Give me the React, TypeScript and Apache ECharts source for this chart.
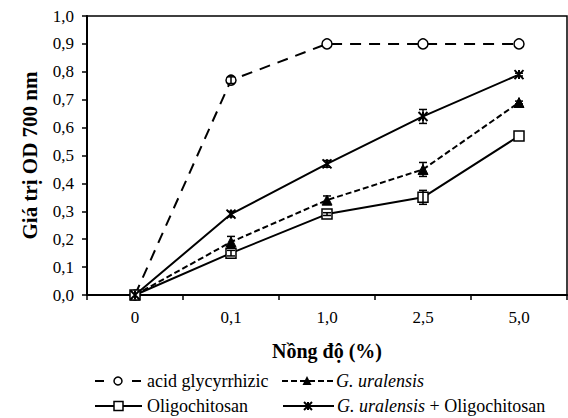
import React, { useEffect, useRef } from "react";
import * as echarts from "echarts";

const categories = ["0", "0,1", "1,0", "2,5", "5,0"];
const acidValues = [0, 0.77, 0.9, 0.9, 0.9];
const acidErr = [0, 0.012, 0, 0, 0];
const uralValues = [0, 0.19, 0.34, 0.45, 0.69];
const uralErr = [0, 0.02, 0.015, 0.025, 0.005];
const oligoValues = [0, 0.15, 0.29, 0.35, 0.57];
const oligoErr = [0, 0.01, 0.005, 0.025, 0];
const comboValues = [0, 0.29, 0.47, 0.64, 0.79];
const comboErr = [0, 0.01, 0.012, 0.025, 0.005];
const yTicks = [0, 0.1, 0.2, 0.3, 0.4, 0.5, 0.6, 0.7, 0.8, 0.9, 1.0];

const FONT = "Liberation Serif";
const STAR = "path://M0,0L10,10M10,0L0,10M5,0L5,10";

function errData(vals: number[], errs: number[]) {
  return vals
    .map((v, i) => [i, v - errs[i], v + errs[i], errs[i]])
    .filter((d) => d[3] > 0);
}

function errSeries(vals: number[], errs: number[]) {
  return {
    type: "custom",
    silent: true,
    z: 5,
    data: errData(vals, errs),
    renderItem: (params: any, api: any) => {
      const x = api.coord([api.value(0), api.value(1)])[0];
      const lo = api.coord([api.value(0), api.value(1)])[1];
      const hi = api.coord([api.value(0), api.value(2)])[1];
      const w = 4;
      const style = { stroke: "#000", lineWidth: 1.5 };
      return {
        type: "group",
        children: [
          { type: "line", shape: { x1: x, y1: lo, x2: x, y2: hi }, style },
          { type: "line", shape: { x1: x - w, y1: lo, x2: x + w, y2: lo }, style },
          { type: "line", shape: { x1: x - w, y1: hi, x2: x + w, y2: hi }, style },
        ],
      };
    },
  };
}

export default function App() {
  const ref = useRef<HTMLDivElement>(null);
  useEffect(() => {
    if (!ref.current) return;
    const chart = echarts.init(ref.current, undefined, { renderer: "svg" });
    const lineBase = {
      type: "line",
      z: 3,
      symbolKeepAspect: true,
    };
    const legendTextStyle = {
      fontFamily: FONT,
      fontSize: 18,
      fill: "#000",
      verticalAlign: "middle",
    };
    chart.setOption({
      animation: false,
      backgroundColor: "#fff",
      textStyle: { fontFamily: FONT },
      grid: {
        left: 87,
        right: 1,
        top: 16,
        bottom: 123,
        show: true,
        borderColor: "#000",
        borderWidth: 1.5,
      },
      xAxis: {
        type: "category",
        data: categories,
        boundaryGap: true,
        axisLine: { lineStyle: { color: "#000", width: 2 } },
        axisTick: { show: true, length: 5, inside: false, lineStyle: { color: "#000", width: 1.5 } },
        axisLabel: { fontFamily: FONT, fontSize: 17, color: "#000", margin: 14 },
        name: "Nồng độ (%)",
        nameLocation: "middle",
        nameGap: 46,
        nameTextStyle: { fontFamily: FONT, fontSize: 20, fontWeight: "bold", color: "#000" },
      },
      yAxis: {
        type: "value",
        min: 0,
        max: 1,
        interval: 0.1,
        splitLine: { show: false },
        axisLine: { show: true, lineStyle: { color: "#000", width: 2 } },
        axisTick: { show: true, length: 5, lineStyle: { color: "#000", width: 1.5 } },
        axisLabel: {
          fontFamily: FONT,
          fontSize: 17,
          color: "#000",
          margin: 13,
          formatter: (v: number) => {
            const t = yTicks.find((k) => Math.abs(k - v) < 1e-6);
            return (t !== undefined ? t : v).toFixed(1).replace(".", ",");
          },
        },
        name: "Giá trị OD 700 nm",
        nameLocation: "middle",
        nameGap: 47,
        nameTextStyle: { fontFamily: FONT, fontSize: 21, fontWeight: "bold", color: "#000" },
      },
      series: [
        {
          ...lineBase,
          name: "acid glycyrrhizic",
          data: acidValues,
          symbol: "circle",
          symbolSize: 10,
          lineStyle: { color: "#000", width: 2, type: [11, 8] },
          itemStyle: { color: "#fff", borderColor: "#000", borderWidth: 1.5 },
        },
        {
          ...lineBase,
          name: "G. uralensis",
          data: uralValues,
          symbol: "triangle",
          symbolSize: 10,
          lineStyle: { color: "#000", width: 2, type: [6, 3] },
          itemStyle: { color: "#000", borderColor: "#000", borderWidth: 1 },
        },
        {
          ...lineBase,
          name: "Oligochitosan",
          data: oligoValues,
          symbol: "rect",
          symbolSize: 10,
          lineStyle: { color: "#000", width: 2 },
          itemStyle: { color: "#fff", borderColor: "#000", borderWidth: 1.5 },
        },
        {
          ...lineBase,
          name: "G. uralensis + Oligochitosan",
          data: comboValues,
          symbol: STAR,
          symbolSize: 9,
          lineStyle: { color: "#000", width: 2 },
          itemStyle: { color: "none", borderColor: "#000", borderWidth: 2 },
        },
        errSeries(acidValues, acidErr),
        errSeries(uralValues, uralErr),
        errSeries(oligoValues, oligoErr),
        errSeries(comboValues, comboErr),
      ],
      graphic: [
        // row 1 left: acid glycyrrhizic
        { type: "line", shape: { x1: 95, y1: 381, x2: 104, y2: 381 }, style: { stroke: "#000", lineWidth: 2 } },
        { type: "circle", shape: { cx: 118, cy: 381, r: 4 }, style: { fill: "#fff", stroke: "#000", lineWidth: 1.5 } },
        { type: "line", shape: { x1: 132, y1: 381, x2: 141, y2: 381 }, style: { stroke: "#000", lineWidth: 2 } },
        { type: "text", x: 147, y: 381, style: { ...legendTextStyle, text: "acid glycyrrhizic" } },
        // row 1 right: G. uralensis
        {
          type: "line",
          shape: { x1: 282, y1: 381, x2: 333, y2: 381 },
          style: { stroke: "#000", lineWidth: 2, lineDash: [6, 3] },
        },
        {
          type: "polygon",
          shape: { points: [[307, 376], [302.5, 385], [311.5, 385]] },
          style: { fill: "#000" },
        },
        {
          type: "text",
          x: 336,
          y: 381,
          style: { ...legendTextStyle, fontStyle: "italic", text: "G. uralensis" },
        },
        // row 2 left: Oligochitosan
        { type: "line", shape: { x1: 95, y1: 406, x2: 142, y2: 406 }, style: { stroke: "#000", lineWidth: 2 } },
        { type: "rect", shape: { x: 114, y: 401.5, width: 9, height: 9 }, style: { fill: "#fff", stroke: "#000", lineWidth: 1.5 } },
        { type: "text", x: 147, y: 406, style: { ...legendTextStyle, text: "Oligochitosan" } },
        // row 2 right: combo
        { type: "line", shape: { x1: 283, y1: 406, x2: 334, y2: 406 }, style: { stroke: "#000", lineWidth: 2 } },
        { type: "line", shape: { x1: 304, y1: 402, x2: 312, y2: 410 }, style: { stroke: "#000", lineWidth: 2 } },
        { type: "line", shape: { x1: 312, y1: 402, x2: 304, y2: 410 }, style: { stroke: "#000", lineWidth: 2 } },
        { type: "line", shape: { x1: 308, y1: 402, x2: 308, y2: 410 }, style: { stroke: "#000", lineWidth: 2 } },
        {
          type: "text",
          x: 337,
          y: 406,
          style: {
            ...legendTextStyle,
            text: "{i|G. uralensis} + Oligochitosan",
            rich: {
              i: { fontFamily: FONT, fontSize: 18, fontStyle: "italic", fill: "#000" },
            },
          },
        },
      ],
    });
    return () => chart.dispose();
  }, []);
  return <div ref={ref} style={{ width: 568, height: 418, position: "absolute", left: 0, top: 0 }} />;
}
